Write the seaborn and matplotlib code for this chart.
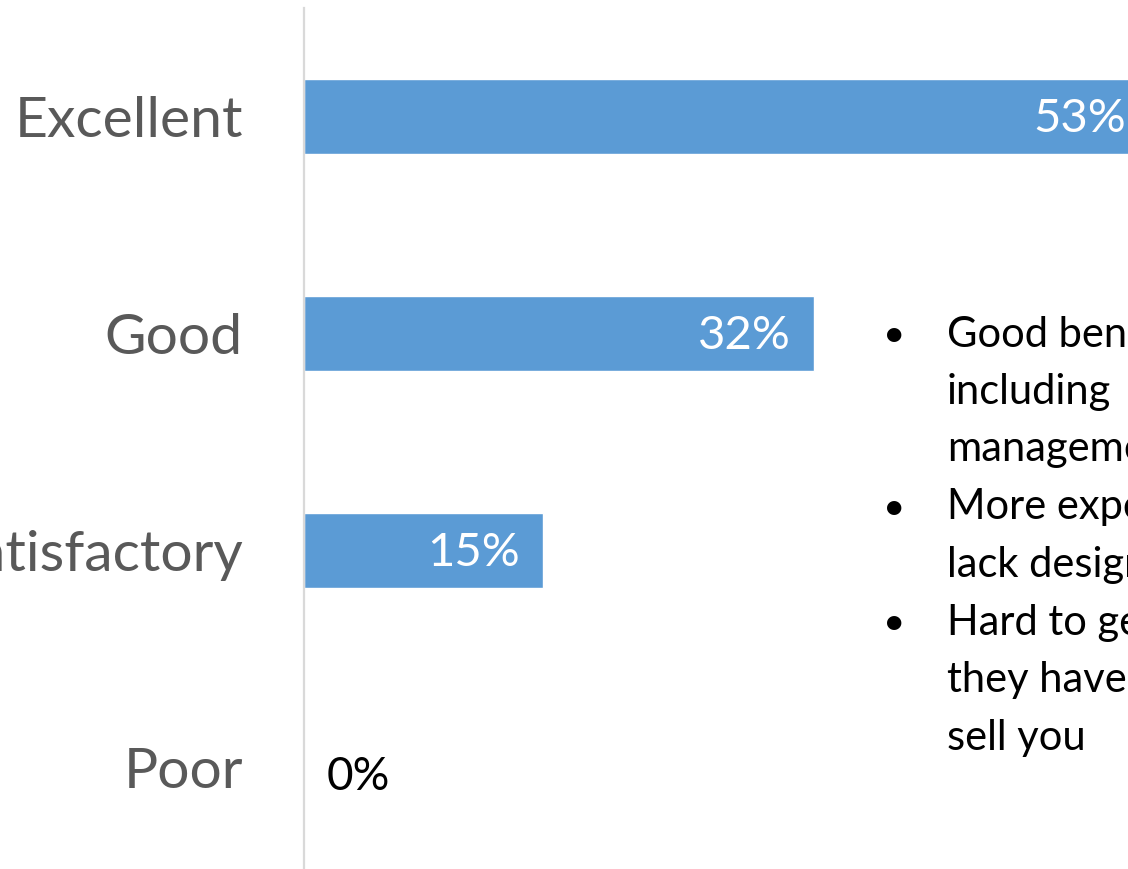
import matplotlib
matplotlib.use("Agg")
import matplotlib.pyplot as plt
import seaborn as sns
import pandas as pd

categories = ["Excellent", "Good", "Satisfactory", "Poor"]
values = [53, 32, 15, 0]
value_labels = ["53%", "32%", "15%", "0%"]
notes = [
    ("\u2022", "Good benefits,"),
    ("", "including"),
    ("", "management"),
    ("\u2022", "More expensive"),
    ("", "lack design"),
    ("\u2022", "Hard to get"),
    ("", "they have"),
    ("", "sell you"),
]

sns.set_theme(style="white")
plt.rcParams["font.family"] = ["Lato", "DejaVu Sans"]

W, H = 1128, 869
fig = plt.figure(figsize=(W / 100, H / 100), dpi=100)
fig.patch.set_facecolor("white")

band = 217.0
left_px, top_px = 304.0, 8.0
ax_h = 4 * band
xmax = 60
ax_w = xmax * 15.95
ax = fig.add_axes([left_px / W, 1 - (top_px + ax_h) / H, ax_w / W, ax_h / H])

df = pd.DataFrame({"cat": categories, "val": values})
sns.barplot(data=df, x="val", y="cat", orient="h", color="#5B9BD5",
            saturation=1, width=0.35, ax=ax)

ax.set_xlim(0, xmax)
ax.set_ylim(3.5, -0.5)
ax.set_xlabel("")
ax.set_ylabel("")
ax.set_xticks([])
for s in ["top", "right", "bottom"]:
    ax.spines[s].set_visible(False)
ax.spines["left"].set_color("#D9D9D9")
ax.spines["left"].set_linewidth(1.6)
ax.tick_params(axis="y", length=0, pad=44, labelsize=41, labelcolor="#595959")
ax.set_facecolor("white")

for i, (v, lab) in enumerate(zip(values, value_labels)):
    if v > 0:
        ax.annotate(lab, xy=(v, i), xytext=(-17, -2), textcoords="offset points",
                    ha="right", va="center", color="white", fontsize=34)
    else:
        ax.annotate(lab, xy=(v, i), xytext=(16, -7), textcoords="offset points",
                    ha="left", va="center", color="black", fontsize=33)

for k, (b, line) in enumerate(notes):
    yb = 346 + 57.7 * k
    if b:
        fig.text(894 / W, 1 - yb / H, b, ha="center", va="baseline",
                 fontsize=28, color="black")
    fig.text(947 / W, 1 - yb / H, line, ha="left", va="baseline",
             fontsize=30, color="black")

fig.savefig("out.png", dpi=100)
